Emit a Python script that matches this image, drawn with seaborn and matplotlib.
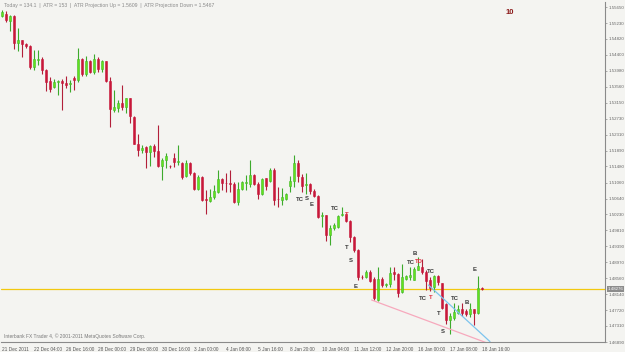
import numpy as np
import pandas as pd
import seaborn as sns
import matplotlib
matplotlib.use("Agg")
import matplotlib.pyplot as plt

# ---------------- data ----------------
opens = [1.5541,1.5548,1.5529,1.5541,1.5470,1.5478,1.5468,1.5463,1.5409,1.5427,
         1.5430,1.5400,1.5372,1.5356,1.5368,1.5372,1.5367,1.5363,1.5379,1.5375,
         1.5430,1.5389,1.5423,1.5396,1.5428,1.5404,1.5423,1.5371,1.5295,1.5302,
         1.5313,1.5304,1.5326,1.5278,1.5208,1.5192,1.5199,1.5185,1.5202,1.5189,
         1.5150,1.5164,1.5150,1.5171,1.5159,1.5157,1.5123,1.5156,1.5131,1.5090,
         1.5121,1.5062,1.5057,1.5067,1.5081,1.5114,1.5106,1.5104,1.5103,1.5055,
         1.5088,1.5105,1.5103,1.5125,1.5102,1.5077,1.5117,1.5110,1.5140,1.5064,
         1.5060,1.5064,1.5096,1.5109,1.5156,1.5121,1.5100,1.5102,1.5084,1.5070,
         1.5019,1.5021,1.4968,1.4986,1.4990,1.5021,1.5025,1.5005,1.4964,1.4929,
         1.4860,1.4859,1.4872,1.4855,1.4798,1.4855,1.4838,1.4840,1.4871,1.4868,
         1.4820,1.4855,1.4858,1.4852,1.4878,1.4885,1.4872,1.4852,1.4833,1.4861,
         1.4842,1.4788,1.4746,1.4752,1.4765,1.4774,1.4770,1.4762,1.4774,1.4765,
         1.4830]
highs = [1.5557,1.5555,1.5544,1.5544,1.5509,1.5480,1.5471,1.5465,1.5452,1.5452,
         1.5433,1.5402,1.5381,1.5378,1.5374,1.5378,1.5384,1.5375,1.5384,1.5459,
         1.5431,1.5436,1.5426,1.5442,1.5433,1.5426,1.5424,1.5381,1.5348,1.5323,
         1.5361,1.5328,1.5328,1.5280,1.5234,1.5203,1.5201,1.5205,1.5206,1.5256,
         1.5169,1.5182,1.5153,1.5182,1.5204,1.5160,1.5164,1.5160,1.5134,1.5125,
         1.5123,1.5086,1.5090,1.5099,1.5138,1.5117,1.5130,1.5140,1.5108,1.5108,
         1.5110,1.5125,1.5166,1.5128,1.5108,1.5117,1.5117,1.5143,1.5143,1.5095,
         1.5093,1.5079,1.5123,1.5178,1.5164,1.5128,1.5130,1.5105,1.5088,1.5073,
         1.5029,1.5022,1.4994,1.4999,1.5021,1.5042,1.5027,1.5008,1.4966,1.4931,
         1.4864,1.4877,1.4877,1.4858,1.4884,1.4858,1.4844,1.4884,1.4885,1.4870,
         1.4894,1.4864,1.4885,1.4884,1.4912,1.4907,1.4877,1.4858,1.4864,1.4864,
         1.4844,1.4790,1.4765,1.4790,1.4785,1.4790,1.4776,1.4790,1.4776,1.4861,
         1.4832]
lows = [1.5539,1.5526,1.5503,1.5454,1.5450,1.5435,1.5457,1.5404,1.5400,1.5413,
        1.5389,1.5346,1.5343,1.5354,1.5334,1.5295,1.5352,1.5343,1.5349,1.5369,
        1.5384,1.5384,1.5393,1.5391,1.5395,1.5395,1.5369,1.5250,1.5291,1.5291,
        1.5295,1.5288,1.5262,1.5206,1.5175,1.5182,1.5143,1.5149,1.5173,1.5147,
        1.5112,1.5145,1.5145,1.5147,1.5151,1.5116,1.5121,1.5125,1.5086,1.5086,
        1.5058,1.5025,1.5055,1.5064,1.5079,1.5086,1.5082,1.5082,1.5053,1.5047,
        1.5086,1.5086,1.5095,1.5099,1.5064,1.5073,1.5086,1.5108,1.5047,1.5042,
        1.5047,1.5060,1.5082,1.5095,1.5108,1.5082,1.5077,1.5077,1.5067,1.5014,
        1.4990,1.4953,1.4942,1.4981,1.4988,1.5018,1.5003,1.4951,1.4925,1.4851,
        1.4855,1.4857,1.4846,1.4800,1.4796,1.4833,1.4833,1.4833,1.4851,1.4807,
        1.4816,1.4852,1.4851,1.4851,1.4877,1.4868,1.4824,1.4823,1.4820,1.4837,
        1.4776,1.4737,1.4711,1.4746,1.4763,1.4756,1.4756,1.4755,1.4733,1.4763,
        1.4826]
closes = [1.5553,1.5531,1.5541,1.5470,1.5478,1.5467,1.5463,1.5409,1.5428,1.5430,
          1.5400,1.5370,1.5350,1.5370,1.5372,1.5367,1.5361,1.5367,1.5375,1.5428,
          1.5389,1.5423,1.5395,1.5430,1.5404,1.5424,1.5371,1.5297,1.5304,1.5313,
          1.5304,1.5326,1.5280,1.5208,1.5192,1.5196,1.5185,1.5202,1.5189,1.5150,
          1.5164,1.5176,1.5148,1.5160,1.5162,1.5121,1.5157,1.5131,1.5090,1.5121,
          1.5060,1.5060,1.5069,1.5084,1.5114,1.5105,1.5105,1.5103,1.5055,1.5090,
          1.5108,1.5108,1.5125,1.5102,1.5077,1.5114,1.5096,1.5140,1.5060,1.5063,
          1.5067,1.5077,1.5110,1.5157,1.5123,1.5096,1.5102,1.5084,1.5070,1.5016,
          1.5022,1.4968,1.4988,1.4994,1.5018,1.5024,1.5006,1.4964,1.4929,1.4858,
          1.4858,1.4872,1.4849,1.4803,1.4855,1.4839,1.4841,1.4870,1.4868,1.4817,
          1.4858,1.4861,1.4864,1.4881,1.4887,1.4872,1.4848,1.4829,1.4861,1.4846,
          1.4779,1.4746,1.4756,1.4768,1.4774,1.4765,1.4762,1.4776,1.4765,1.4829,
          1.4828]

x_tick_labels = ["21 Dec 2011", "22 Dec 04:00", "26 Dec 16:00", "28 Dec 00:00",
                 "29 Dec 08:00", "30 Dec 16:00", "3 Jan 00:00", "4 Jan 08:00",
                 "5 Jan 16:00", "8 Jan 20:00", "10 Jan 04:00", "11 Jan 12:00",
                 "12 Jan 20:00", "16 Jan 00:00", "17 Jan 08:00", "18 Jan 16:00"]
y_ticks = [1.55650, 1.55230, 1.54820, 1.54400, 1.53980, 1.53560, 1.53150,
           1.52730, 1.52310, 1.51890, 1.51480, 1.51060, 1.50640, 1.50230,
           1.49810, 1.49390, 1.48970, 1.48560, 1.48140, 1.47720, 1.47310, 1.46890]

current_price = 1.48276

# trend lines (bar index, price)
pink_idx = [92.4, 124.0]
pink_price = [1.47988, 1.46758]
blue_idx = [106.6, 122.0]
blue_price = [1.48380, 1.46900]

ann_text  = ["TC", "S", "E", "TC", "T", "T", "S", "E", "B", "TC", "TD",
             "TC", "TC", "T", "T", "S", "TC", "B", "E"]
ann_idx   = [74.6, 76.3, 77.3, 83.3, 86.3, 86.3, 87.3, 88.3, 103.3, 102.3, 104.3,
             107.3, 105.3, 107.1, 109.3, 110.1, 113.3, 116.1, 118.1]
ann_price = [1.50629, 1.50655, 1.50498, 1.50368, 1.50237, 1.49374, 1.49034,
             1.48354, 1.49217, 1.48956, 1.49008, 1.48746, 1.48040, 1.48066,
             1.47648, 1.47177, 1.48040, 1.47910, 1.48773]
ann_red   = [False, False, False, False, True, False, False, False, False, False,
             True, False, False, True, False, False, False, False, False]

header = ("Today = 134.1  |  ATR = 153  |  ATR Projection Up = 1.5609  |  "
          "ATR Projection Down = 1.5467")
footer = "Interbank FX Trader 4, \u00a9 2001-2011 MetaQuotes Software Corp."

# ---------------- plot ----------------
sns.set_style("white")
plt.rcParams["font.family"] = ["Liberation Sans", "DejaVu Sans"]

df = pd.DataFrame({"open": opens, "high": highs, "low": lows, "close": closes})
df["idx"] = np.arange(len(df))
df["up"] = df["close"] >= df["open"]

BG = "#F4F4F1"
fig = plt.figure(figsize=(6.25, 3.52), dpi=100, facecolor=BG)
ax = fig.add_axes([1.0 / 625, 10.0 / 352, 604.0 / 625, 340.0 / 352], facecolor=BG)

GREEN_BODY, GREEN_WICK = "#62E21C", "#3DAA2C"
RED_BODY, RED_WICK = "#C8173A", "#B21F3A"

# wicks
for up, wc in [(True, GREEN_WICK), (False, RED_WICK)]:
    d = df[df["up"] == up]
    ax.vlines(d["idx"], d["low"], d["high"], color=wc, linewidth=0.8, zorder=2)

# bodies
for up, bc, ec in [(True, GREEN_BODY, "#44B82A"), (False, RED_BODY, RED_BODY)]:
    d = df[df["up"] == up]
    bottom = np.minimum(d["open"], d["close"])
    height = np.maximum(np.abs(d["close"] - d["open"]), 0.00006)
    ax.bar(d["idx"], height, bottom=bottom, width=0.72, color=bc,
           edgecolor=ec, linewidth=0.4, zorder=3)

# current price level
ax.axhline(current_price, color="#F2C80F", linewidth=0.9, zorder=1)

# trend lines
tl = pd.DataFrame({"x": pink_idx + blue_idx, "y": pink_price + blue_price,
                   "line": ["pink"] * 2 + ["blue"] * 2})
sns.lineplot(data=tl, x="x", y="y", hue="line",
             palette={"pink": "#F7A9BD", "blue": "#7CC4EE"},
             linewidth=0.9, legend=False, ax=ax, zorder=4, sort=False)

# annotations
for t, xi, yi, r in zip(ann_text, ann_idx, ann_price, ann_red):
    ax.text(xi, yi, t, fontsize=4.3, color="#E03040" if r else "#3A3A3A",
            ha="center", va="center", fontweight="bold", zorder=5)

ax.set_xlim(-0.25, 150.75)
ax.set_ylim(1.46890, 1.55781)

# axes styling
for s in ["top", "left"]:
    ax.spines[s].set_visible(False)
for s in ["right", "bottom"]:
    ax.spines[s].set_color("#8A8A8A")
    ax.spines[s].set_linewidth(0.8)

ax.yaxis.tick_right()
ax.set_yticks(y_ticks)
ax.set_yticklabels([f"{v:.5f}" for v in y_ticks])
ax.tick_params(axis="y", direction="out", length=1.5, width=0.5, color="#8A8A8A",
               labelsize=3.2, labelcolor="#666666", pad=0.8)

ax.set_xticks(np.arange(0, len(df), 8))
ax.set_xticklabels(x_tick_labels, ha="left")
ax.tick_params(axis="x", direction="out", length=2.5, width=0.5, color="#8A8A8A",
               labelsize=3.4, labelcolor="#555555", pad=1.0)
ax.set_xlabel("")
ax.set_ylabel("")

# price box on right axis
ax.annotate(f"{current_price:.5f}", xy=(1.0, current_price),
            xycoords=("axes fraction", "data"), xytext=(1.6, 0),
            textcoords="offset points", fontsize=3.2, color="white",
            va="center", ha="left",
            bbox=dict(boxstyle="square,pad=0.12", fc="#8C8C8C", ec="none"),
            annotation_clip=False)

# header / footer / counter texts
fig.text(4.0 / 625, 1 - 5.0 / 352, header, fontsize=3.7, color="#8A8A8A",
         ha="left", va="center")
fig.text(4.0 / 625, 1 - 336.0 / 352, footer, fontsize=3.5, color="#7A7A7A",
         ha="left", va="center")
fig.text(510.0 / 625, 1 - 12.0 / 352, "10", fontsize=5.5, color="#8B1A1A",
         ha="center", va="center", fontweight="bold")

fig.savefig("out.png", dpi=100, facecolor=BG)
